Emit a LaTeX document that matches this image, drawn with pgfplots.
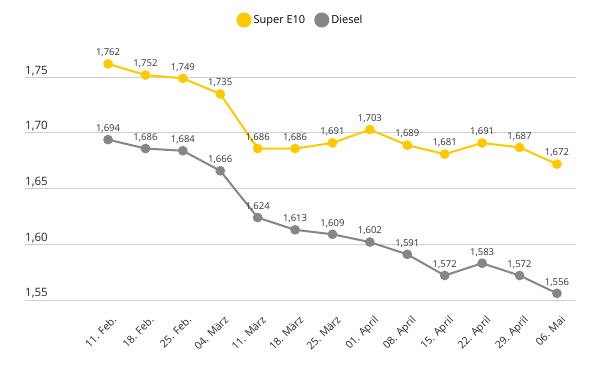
\documentclass[border=0pt]{standalone}
\usepackage{pgfplots}
\pgfplotsset{compat=1.18}
\usepackage{fontspec}
\setmainfont{Open Sans}
\definecolor{e10}{HTML}{FFC800}
\definecolor{dsl}{HTML}{868686}
\definecolor{gridc}{HTML}{CFCFCF}
\begin{document}
\begin{tikzpicture}
\useasboundingbox (0,0) rectangle (610pt,367pt);
\begin{axis}[
  at={(25pt,67pt)}, anchor=south west,
  scale only axis, width=551pt, height=250.6pt,
  xmin=-2.22, xmax=12.51, ymin=1.55, ymax=1.775,
  axis line style={draw=none},
  major tick length=0pt,
  ymajorgrids, grid style={gridc, line width=0.9pt},
  ytick={1.55,1.60,1.65,1.70,1.75},
  yticklabel style={anchor=south west, inner sep=0pt, xshift=0pt, yshift=1.5pt, font=\fontsize{11.5}{12}\selectfont, text=black!85},
  /pgf/number format/.cd, use comma, fixed, fixed zerofill, precision=2, assume math mode=true,
  /pgfplots/.cd,
  xtick={0,...,12},
  xticklabels={11. Feb., 18. Feb., 25. Feb., 04. März, 11. März, 18. März, 25. März, 01. April, 08. April, 15. April, 22. April, 29. April, 06. Mai},
  xticklabel style={rotate=45, anchor=north east, inner sep=0pt, xshift=-8pt, yshift=-13pt, font=\fontsize{10.5}{11}\selectfont, text=black!85},
  nodes near coords,
  nodes near coords style={font=\fontsize{9.5}{10}\selectfont, text=black!80, /pgf/number format/.cd, use comma, fixed, fixed zerofill, precision=3, assume math mode=true, /tikz/.cd, anchor=south, inner sep=1pt, yshift=5pt},
  legend style={at={(0.5,1)}, anchor=center, yshift=29.4pt, draw=none, legend columns=-1, font=\fontsize{11}{12}\selectfont, /tikz/every even column/.append style={column sep=7pt}},
  legend image code/.code={\fill[#1] (-1pt,0pt) circle (6.5pt);},
]
\addplot[color=e10, line width=2pt, mark=*, mark size=3.8pt] coordinates {
(0,1.762) (1,1.752) (2,1.749) (3,1.735) (4,1.686) (5,1.686) (6,1.691) (7,1.703) (8,1.689) (9,1.681) (10,1.691) (11,1.687) (12,1.672)};
\addlegendentry{Super E10}
\addplot[color=dsl, line width=2pt, mark=*, mark size=3.8pt] coordinates {
(0,1.694) (1,1.686) (2,1.684) (3,1.666) (4,1.624) (5,1.613) (6,1.609) (7,1.602) (8,1.591) (9,1.572) (10,1.583) (11,1.572) (12,1.556)};
\addlegendentry{Diesel}
\end{axis}
\end{tikzpicture}
\end{document}
